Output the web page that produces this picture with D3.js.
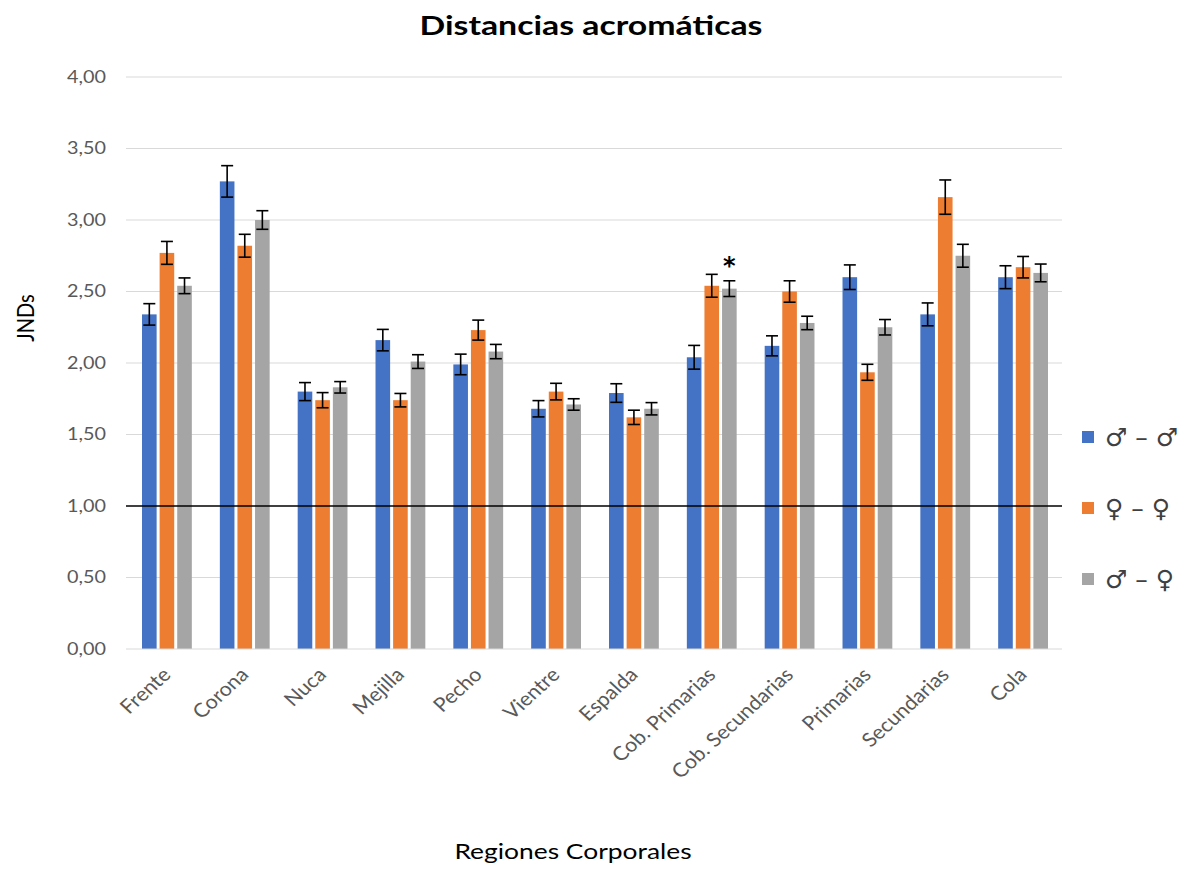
<!DOCTYPE html>
<html>
<head>
<meta charset="utf-8">
<script src="https://cdn.jsdelivr.net/npm/d3@7"></script>
<style>
  html, body { margin: 0; padding: 0; background: #fff; }
  svg { display: block; }
</style>
</head>
<body>
<svg id="chart" width="1186" height="870"></svg>
<script>
// Body regions and the three pairwise comparisons
const categories = ["Frente", "Corona", "Nuca", "Mejilla", "Pecho", "Vientre", "Espalda",
  "Cob. Primarias", "Cob. Secundarias", "Primarias", "Secundarias", "Cola"];
const seriesNames = ["\u2642 \u2013 \u2642", "\u2640 \u2013 \u2640", "\u2642 \u2013 \u2640"];

// Mean achromatic distances (JNDs)
const maleMale     = [2.34, 3.27, 1.80, 2.16, 1.99, 1.68, 1.79, 2.04, 2.12, 2.60, 2.34, 2.60];
const femaleFemale = [2.77, 2.82, 1.74, 1.74, 2.23, 1.80, 1.62, 2.54, 2.50, 1.935, 3.16, 2.67];
const maleFemale   = [2.54, 3.00, 1.83, 2.01, 2.08, 1.71, 1.68, 2.52, 2.28, 2.25, 2.75, 2.63];

// Standard errors
const maleMaleErr     = [0.075, 0.11, 0.063, 0.075, 0.072, 0.057, 0.065, 0.083, 0.07, 0.086, 0.08, 0.08];
const femaleFemaleErr = [0.08, 0.08, 0.053, 0.047, 0.07, 0.058, 0.05, 0.08, 0.075, 0.056, 0.12, 0.075];
const maleFemaleErr   = [0.055, 0.065, 0.04, 0.048, 0.05, 0.04, 0.043, 0.055, 0.047, 0.054, 0.08, 0.062];

const yTicks = [0, 0.5, 1, 1.5, 2, 2.5, 3, 3.5, 4];
const threshold = 1.0;
const significant = ["Cob. Primarias"]; // asterisk above the ♂–♀ bar

const colors = ["#4472C4", "#ED7D31", "#A5A5A5"];
const values = [maleMale, femaleFemale, maleFemale];
const errors = [maleMaleErr, femaleFemaleErr, maleFemaleErr];

const rows = categories.map((c, i) => ({
  category: c,
  bars: seriesNames.map((s, k) => ({ series: k, category: c, value: values[k][i], err: errors[k][i] }))
}));

const svg = d3.select("#chart");
const margin = { left: 128, right: 124, top: 77, bottom: 221 };
const width = 1186 - margin.left - margin.right;
const height = 870 - margin.top - margin.bottom;
const g = svg.append("g").attr("transform", `translate(${margin.left},${margin.top})`);

const x0 = d3.scaleBand().domain(categories).range([0, width]).paddingInner(0.36).paddingOuter(0.18);
const x1 = d3.scaleBand().domain(d3.range(seriesNames.length)).range([0, x0.bandwidth()]).paddingInner(0.17);
const y = d3.scaleLinear().domain([0, 4]).range([height, 0]);

const fmt = d => d3.format(".2f")(d).replace(".", ",");
const font = "Lato, 'Open Sans', sans-serif";

// Gridlines
g.append("g").selectAll("line").data(yTicks.filter(t => t !== 0 && t !== threshold)).join("line")
  .attr("x1", -2).attr("x2", width)
  .attr("y1", d => y(d)).attr("y2", d => y(d))
  .attr("stroke", "#d9d9d9").attr("stroke-width", 1);

// Y tick labels (slightly wide-set type)
g.append("g").selectAll("text").data(yTicks).join("text")
  .attr("transform", d => `translate(-22,${y(d)}) scale(1.2,1)`)
  .attr("dy", "0.36em")
  .attr("text-anchor", "end")
  .attr("fill", "#595959")
  .style("font-family", font).style("font-size", "16.5px")
  .text(fmt);

// Bars
const groups = g.append("g").selectAll("g").data(rows).join("g")
  .attr("transform", d => `translate(${x0(d.category)},0)`);

groups.selectAll("rect").data(d => d.bars).join("rect")
  .attr("x", d => x1(d.series))
  .attr("width", x1.bandwidth())
  .attr("y", d => y(d.value))
  .attr("height", d => y(0) - y(d.value))
  .attr("fill", d => colors[d.series]);

// Error bars
const capHalf = 6;
const cx = d => x1(d.series) + x1.bandwidth() / 2;
const eb = groups.selectAll("g.err").data(d => d.bars).join("g").attr("class", "err")
  .attr("stroke", "#000").attr("stroke-width", 1.6);
eb.append("line")
  .attr("x1", cx).attr("x2", cx)
  .attr("y1", d => y(d.value + d.err)).attr("y2", d => y(d.value - d.err));
eb.append("line")
  .attr("x1", d => cx(d) - capHalf).attr("x2", d => cx(d) + capHalf)
  .attr("y1", d => y(d.value + d.err)).attr("y2", d => y(d.value + d.err));
eb.append("line")
  .attr("x1", d => cx(d) - capHalf).attr("x2", d => cx(d) + capHalf)
  .attr("y1", d => y(d.value - d.err)).attr("y2", d => y(d.value - d.err));

// Baseline and threshold line at 1 JND
g.append("line").attr("x1", -2).attr("x2", width).attr("y1", y(0)).attr("y2", y(0))
  .attr("stroke", "#d9d9d9").attr("stroke-width", 1);
g.append("line").attr("x1", -2).attr("x2", width).attr("y1", y(threshold)).attr("y2", y(threshold))
  .attr("stroke", "#000").attr("stroke-width", 1.5);

// Significance marker
rows.filter(r => significant.includes(r.category)).forEach(r => {
  const b = r.bars[2];
  g.append("text")
    .attr("x", x0(r.category) + cx(b))
    .attr("y", y(b.value + b.err) - 7)
    .attr("text-anchor", "middle")
    .style("font-family", "'DejaVu Sans', sans-serif").style("font-weight", "bold").style("font-size", "24px")
    .attr("fill", "#000").text("*");
});

// Category labels, rotated
g.append("g").selectAll("text").data(categories).join("text")
  .attr("transform", d => `translate(${x0(d) + x0.bandwidth() / 2 + 5},${height + 27}) scale(1.1,1) rotate(-45)`)
  .attr("text-anchor", "end")
  .attr("fill", "#595959")
  .style("font-family", font).style("font-size", "19.5px")
  .text(d => d);

// Title
svg.append("text").attr("transform", "translate(591,35) scale(1.3,1)").attr("text-anchor", "middle")
  .style("font-family", font).style("font-weight", "bold").style("font-size", "26px")
  .attr("fill", "#000").text("Distancias acromáticas");

// Axis titles
svg.append("text").attr("transform", "translate(34,318) scale(1.15,1) rotate(-90)").attr("text-anchor", "middle")
  .style("font-family", font).style("font-size", "20px").attr("fill", "#000").text("JNDs");
svg.append("text").attr("transform", "translate(573,859) scale(1.2,1)").attr("text-anchor", "middle")
  .style("font-family", font).style("font-size", "22px").attr("fill", "#000").text("Regiones Corporales");

// Legend
const legend = svg.append("g").selectAll("g").data(seriesNames).join("g")
  .attr("transform", (d, i) => `translate(1082,${437 + i * 71})`);
legend.append("rect").attr("x", 0).attr("y", -6).attr("width", 12).attr("height", 12)
  .attr("fill", (d, i) => colors[i]);
legend.append("text").attr("x", 23).attr("y", 9)
  .style("font-family", "'DejaVu Sans', sans-serif").style("font-size", "25px")
  .attr("fill", "#404040").text(d => d);
</script>
</body>
</html>
